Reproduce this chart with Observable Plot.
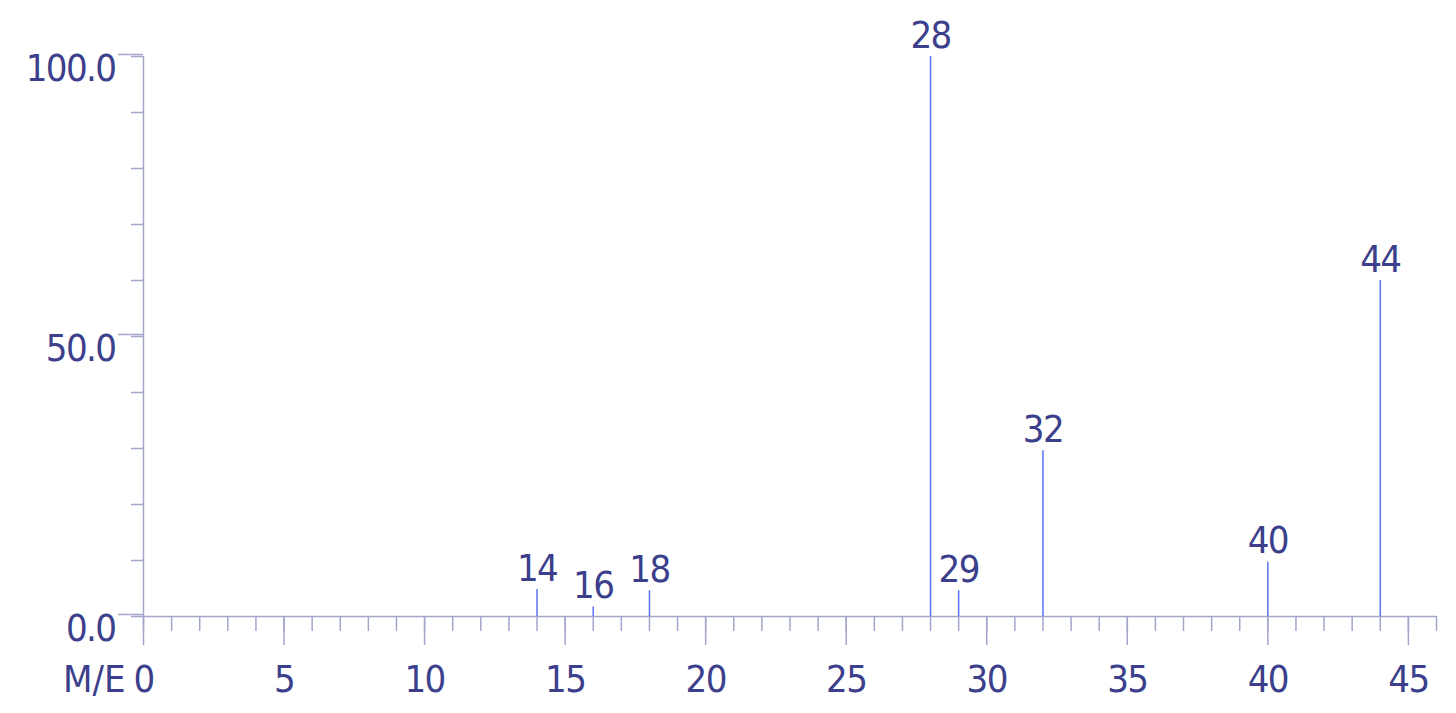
<!DOCTYPE html>
<html><head><meta charset="utf-8">
<script src="https://cdn.jsdelivr.net/npm/d3@7"></script>
<script src="https://cdn.jsdelivr.net/npm/@observablehq/plot@0.6"></script>
<style>body{margin:0;background:#fff} svg text{letter-spacing:-1.6px} svg > g:last-of-type text{letter-spacing:0}</style>
</head><body><div id="chart"></div>
<script>
const massCharge = [14, 16, 18, 28, 29, 32, 40, 44];
const intensity = [4.8, 1.7, 4.6, 100, 4.6, 29.6, 9.7, 60];
const peakLabels = ["14", "16", "18", "28", "29", "32", "40", "44"];
const xMinorTicks = d3.range(0, 47, 1);
const xMajorTicks = [0, 5, 10, 15, 20, 25, 30, 35, 40, 45];
const xTickLabels = ["0", "5", "10", "15", "20", "25", "30", "35", "40", "45"];
const yMinorTicks = [0, 10, 20, 30, 40, 50, 60, 70, 80, 90, 100];
const yMajorTicks = [0, 50, 100];
const yTickLabels = ["0.0", "50.0", "100.0"];
const xAxisLabel = ["M/E"];

const textColor = "#3c3f8b";
const axisColor = "#a3a6cb";
const stemColor = "#5873f3";
const font = "DejaVu Sans Condensed";
const fs = 38;

const peaks = massCharge.map((m, i) => ({m, v: intensity[i], label: peakLabels[i]}));

const chart = Plot.plot({
  width: 1456,
  height: 713,
  marginLeft: 143,
  marginRight: 20,
  marginTop: 56,
  marginBottom: 97,
  x: {domain: [0, 46]},
  y: {domain: [0, 100]},
  style: {fontFamily: font, fontSize: fs + "px", color: textColor, background: "#fff"},
  marks: [
    Plot.ruleY([0], {stroke: axisColor, strokeWidth: 1.5}),
    Plot.ruleX([0], {stroke: axisColor, strokeWidth: 1.5}),
    Plot.axisX(xMinorTicks, {tickSize: 15, tickFormat: () => "", stroke: axisColor, strokeWidth: 1.5, label: null}),
    Plot.axisX(xMajorTicks, {tickSize: 29, tickPadding: 20, tickFormat: d => xTickLabels[xMajorTicks.indexOf(d)], stroke: axisColor, strokeWidth: 1.5, fill: textColor, fontSize: fs, label: null}),
    Plot.axisY(yMinorTicks, {tickSize: 12, tickFormat: () => "", stroke: axisColor, strokeWidth: 1.5, label: null}),
    Plot.axisY(yMajorTicks, {tickSize: 25, tickPadding: 3, lineAnchor: "top", dy: -2, tickFormat: d => yTickLabels[yMajorTicks.indexOf(d)], stroke: axisColor, strokeWidth: 1.5, fill: textColor, fontSize: fs, label: null}),
    Plot.ruleX(peaks, {x: "m", y1: 0, y2: "v", stroke: stemColor, strokeWidth: 1.5}),
    Plot.text(peaks, {x: "m", y: "v", text: "label", lineAnchor: "bottom", dy: -9, fill: textColor, fontSize: fs}),
    Plot.text(xAxisLabel, {frameAnchor: "bottom-left", textAnchor: "end", lineAnchor: "top", dx: -18, dy: 49, fill: textColor, fontSize: fs})
  ]
});
document.getElementById("chart").appendChild(chart);
</script>
</body></html>
